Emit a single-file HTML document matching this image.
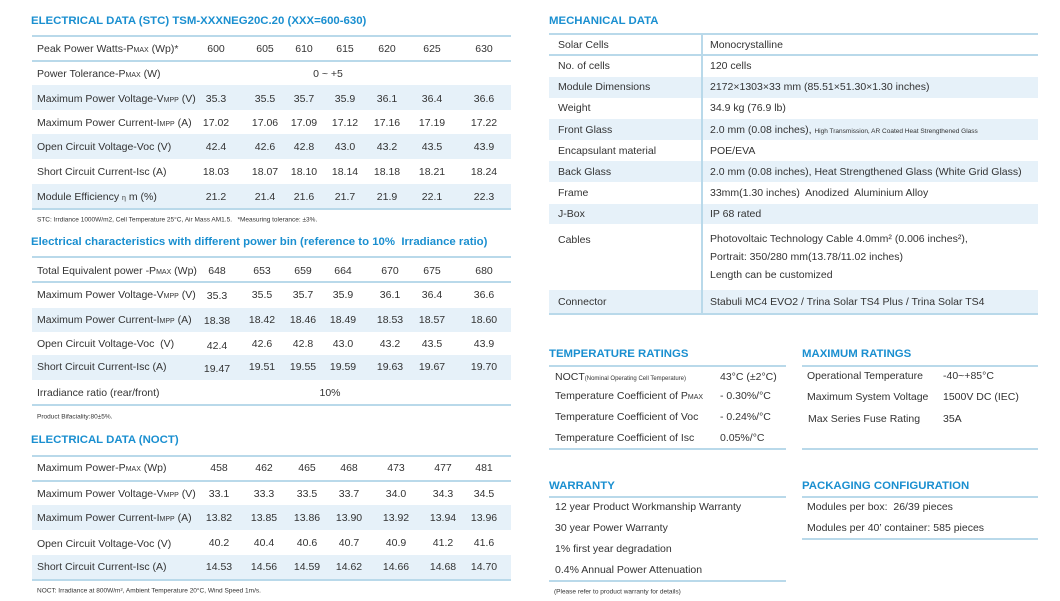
<!DOCTYPE html>
<html><head><meta charset="utf-8"><style>
*{margin:0;padding:0;box-sizing:border-box}
body{width:1060px;height:601px;background:#fff;position:relative;overflow:hidden;font-family:"Liberation Sans",sans-serif;color:#333;font-size:10.5px}
.h{position:absolute;color:#1a8fd0;font-weight:bold;font-size:11.4px;white-space:nowrap}
.ln{position:absolute;height:2px;background:#b9d9ea}
.sh{position:absolute;background:#e6f1f9}
.t{position:absolute;white-space:nowrap;transform:translateY(-50%)}
.c{position:absolute;white-space:nowrap;transform:translate(-50%,-50%)}
.f{position:absolute;white-space:nowrap;font-size:6.5px;transform:translateY(-50%)}
small{font-size:7px}
.vl{position:absolute;width:2px;background:#b9d9ea}
</style></head><body>

<!-- TABLE 1 -->
<div class="h" style="left:31px;top:15px">ELECTRICAL DATA (STC) TSM-XXXNEG20C.20 (XXX=600-630)</div>
<div class="ln" style="left:32px;width:479px;top:35px"></div>
<div class="ln" style="left:32px;width:479px;top:60px"></div>
<div class="sh" style="left:32px;width:479px;top:85px;height:25px"></div>
<div class="sh" style="left:32px;width:479px;top:134px;height:25px"></div>
<div class="sh" style="left:32px;width:479px;top:184px;height:25px"></div>
<div class="ln" style="left:32px;width:479px;top:208px"></div>
<div class="t" style="left:37px;top:49px">Peak Power Watts-P<small>MAX</small> (Wp)*</div>
<div class="c" style="left:216px;top:49px">600</div><div class="c" style="left:265px;top:49px">605</div><div class="c" style="left:304px;top:49px">610</div><div class="c" style="left:345px;top:49px">615</div><div class="c" style="left:387px;top:49px">620</div><div class="c" style="left:432px;top:49px">625</div><div class="c" style="left:484px;top:49px">630</div>
<div class="t" style="left:37px;top:74px">Power Tolerance-P<small>MAX</small> (W)</div>
<div class="c" style="left:328px;top:74px">0 ~ +5</div>
<div class="t" style="left:37px;top:99px">Maximum Power Voltage-V<small>MPP</small> (V)</div>
<div class="c" style="left:216px;top:99px">35.3</div><div class="c" style="left:265px;top:99px">35.5</div><div class="c" style="left:304px;top:99px">35.7</div><div class="c" style="left:345px;top:99px">35.9</div><div class="c" style="left:387px;top:99px">36.1</div><div class="c" style="left:432px;top:99px">36.4</div><div class="c" style="left:484px;top:99px">36.6</div>
<div class="t" style="left:37px;top:123px">Maximum Power Current-I<small>MPP</small> (A)</div>
<div class="c" style="left:216px;top:123px">17.02</div><div class="c" style="left:265px;top:123px">17.06</div><div class="c" style="left:304px;top:123px">17.09</div><div class="c" style="left:345px;top:123px">17.12</div><div class="c" style="left:387px;top:123px">17.16</div><div class="c" style="left:432px;top:123px">17.19</div><div class="c" style="left:484px;top:123px">17.22</div>
<div class="t" style="left:37px;top:147px">Open Circuit Voltage-Voc (V)</div>
<div class="c" style="left:216px;top:147px">42.4</div><div class="c" style="left:265px;top:147px">42.6</div><div class="c" style="left:304px;top:147px">42.8</div><div class="c" style="left:345px;top:147px">43.0</div><div class="c" style="left:387px;top:147px">43.2</div><div class="c" style="left:432px;top:147px">43.5</div><div class="c" style="left:484px;top:147px">43.9</div>
<div class="t" style="left:37px;top:172px">Short Circuit Current-Isc (A)</div>
<div class="c" style="left:216px;top:172px">18.03</div><div class="c" style="left:265px;top:172px">18.07</div><div class="c" style="left:304px;top:172px">18.10</div><div class="c" style="left:345px;top:172px">18.14</div><div class="c" style="left:387px;top:172px">18.18</div><div class="c" style="left:432px;top:172px">18.21</div><div class="c" style="left:484px;top:172px">18.24</div>
<div class="t" style="left:37px;top:197px">Module Efficiency <small>η</small> m (%)</div>
<div class="c" style="left:216px;top:197px">21.2</div><div class="c" style="left:265px;top:197px">21.4</div><div class="c" style="left:304px;top:197px">21.6</div><div class="c" style="left:345px;top:197px">21.7</div><div class="c" style="left:387px;top:197px">21.9</div><div class="c" style="left:432px;top:197px">22.1</div><div class="c" style="left:484px;top:197px">22.3</div>
<div class="f" style="left:37px;top:220px">STC: Irrdiance 1000W/m2, Cell Temperature 25°C, Air Mass AM1.5.&nbsp;&nbsp; *Measuring tolerance: ±3%.</div>

<!-- TABLE 2 -->
<div class="h" style="left:31px;top:236px">Electrical characteristics with different power bin (reference to 10%&nbsp; Irradiance ratio)</div>
<div class="ln" style="left:32px;width:479px;top:256px"></div>
<div class="ln" style="left:32px;width:479px;top:281px"></div>
<div class="sh" style="left:32px;width:479px;top:308px;height:24px"></div>
<div class="sh" style="left:32px;width:479px;top:355px;height:25px"></div>
<div class="ln" style="left:32px;width:479px;top:404px"></div>
<div class="t" style="left:37px;top:271px">Total Equivalent power -P<small>MAX</small> (Wp)</div>
<div class="c" style="left:217px;top:271px">648</div><div class="c" style="left:262px;top:271px">653</div><div class="c" style="left:303px;top:271px">659</div><div class="c" style="left:343px;top:271px">664</div><div class="c" style="left:390px;top:271px">670</div><div class="c" style="left:432px;top:271px">675</div><div class="c" style="left:484px;top:271px">680</div>
<div class="t" style="left:37px;top:295px">Maximum Power Voltage-V<small>MPP</small> (V)</div>
<div class="c" style="left:217px;top:296px">35.3</div><div class="c" style="left:262px;top:295px">35.5</div><div class="c" style="left:303px;top:295px">35.7</div><div class="c" style="left:343px;top:295px">35.9</div><div class="c" style="left:390px;top:295px">36.1</div><div class="c" style="left:432px;top:295px">36.4</div><div class="c" style="left:484px;top:295px">36.6</div>
<div class="t" style="left:37px;top:320px">Maximum Power Current-I<small>MPP</small> (A)</div>
<div class="c" style="left:217px;top:321px">18.38</div><div class="c" style="left:262px;top:320px">18.42</div><div class="c" style="left:303px;top:320px">18.46</div><div class="c" style="left:343px;top:320px">18.49</div><div class="c" style="left:390px;top:320px">18.53</div><div class="c" style="left:432px;top:320px">18.57</div><div class="c" style="left:484px;top:320px">18.60</div>
<div class="t" style="left:37px;top:344px">Open Circuit Voltage-Voc&nbsp; (V)</div>
<div class="c" style="left:217px;top:346px">42.4</div><div class="c" style="left:262px;top:344px">42.6</div><div class="c" style="left:303px;top:344px">42.8</div><div class="c" style="left:343px;top:344px">43.0</div><div class="c" style="left:390px;top:344px">43.2</div><div class="c" style="left:432px;top:344px">43.5</div><div class="c" style="left:484px;top:344px">43.9</div>
<div class="t" style="left:37px;top:367px">Short Circuit Current-Isc (A)</div>
<div class="c" style="left:217px;top:369px">19.47</div><div class="c" style="left:262px;top:367px">19.51</div><div class="c" style="left:303px;top:367px">19.55</div><div class="c" style="left:343px;top:367px">19.59</div><div class="c" style="left:390px;top:367px">19.63</div><div class="c" style="left:432px;top:367px">19.67</div><div class="c" style="left:484px;top:367px">19.70</div>
<div class="t" style="left:37px;top:393px">Irradiance ratio (rear/front)</div>
<div class="c" style="left:330px;top:393px">10%</div>
<div class="f" style="left:37px;top:417px">Product Bifaciality:80±5%.</div>

<!-- TABLE 3 -->
<div class="h" style="left:31px;top:434px">ELECTRICAL DATA (NOCT)</div>
<div class="ln" style="left:32px;width:479px;top:455px"></div>
<div class="ln" style="left:32px;width:479px;top:480px"></div>
<div class="sh" style="left:32px;width:479px;top:505px;height:25px"></div>
<div class="sh" style="left:32px;width:479px;top:555px;height:24px"></div>
<div class="ln" style="left:32px;width:479px;top:579px"></div>
<div class="t" style="left:37px;top:468px">Maximum Power-P<small>MAX</small> (Wp)</div>
<div class="c" style="left:219px;top:468px">458</div><div class="c" style="left:264px;top:468px">462</div><div class="c" style="left:307px;top:468px">465</div><div class="c" style="left:349px;top:468px">468</div><div class="c" style="left:396px;top:468px">473</div><div class="c" style="left:443px;top:468px">477</div><div class="c" style="left:484px;top:468px">481</div>
<div class="t" style="left:37px;top:494px">Maximum Power Voltage-V<small>MPP</small> (V)</div>
<div class="c" style="left:219px;top:494px">33.1</div><div class="c" style="left:264px;top:494px">33.3</div><div class="c" style="left:307px;top:494px">33.5</div><div class="c" style="left:349px;top:494px">33.7</div><div class="c" style="left:396px;top:494px">34.0</div><div class="c" style="left:443px;top:494px">34.3</div><div class="c" style="left:484px;top:494px">34.5</div>
<div class="t" style="left:37px;top:518px">Maximum Power Current-I<small>MPP</small> (A)</div>
<div class="c" style="left:219px;top:518px">13.82</div><div class="c" style="left:264px;top:518px">13.85</div><div class="c" style="left:307px;top:518px">13.86</div><div class="c" style="left:349px;top:518px">13.90</div><div class="c" style="left:396px;top:518px">13.92</div><div class="c" style="left:443px;top:518px">13.94</div><div class="c" style="left:484px;top:518px">13.96</div>
<div class="t" style="left:37px;top:544px">Open Circuit Voltage-Voc (V)</div>
<div class="c" style="left:219px;top:543px">40.2</div><div class="c" style="left:264px;top:543px">40.4</div><div class="c" style="left:307px;top:543px">40.6</div><div class="c" style="left:349px;top:543px">40.7</div><div class="c" style="left:396px;top:543px">40.9</div><div class="c" style="left:443px;top:543px">41.2</div><div class="c" style="left:484px;top:543px">41.6</div>
<div class="t" style="left:37px;top:567px">Short Circuit Current-Isc (A)</div>
<div class="c" style="left:219px;top:567px">14.53</div><div class="c" style="left:264px;top:567px">14.56</div><div class="c" style="left:307px;top:567px">14.59</div><div class="c" style="left:349px;top:567px">14.62</div><div class="c" style="left:396px;top:567px">14.66</div><div class="c" style="left:443px;top:567px">14.68</div><div class="c" style="left:484px;top:567px">14.70</div>
<div class="f" style="left:37px;top:591px">NOCT: Irradiance at 800W/m², Ambient Temperature 20°C, Wind Speed 1m/s.</div>

<!-- MECHANICAL -->
<div class="h" style="left:549px;top:15px">MECHANICAL DATA</div>
<div class="ln" style="left:549px;width:489px;top:33px"></div>
<div class="ln" style="left:549px;width:489px;top:54px"></div>
<div class="sh" style="left:549px;width:489px;top:77px;height:21px"></div>
<div class="sh" style="left:549px;width:489px;top:119px;height:21px"></div>
<div class="sh" style="left:549px;width:489px;top:161px;height:21px"></div>
<div class="sh" style="left:549px;width:489px;top:204px;height:20px"></div>
<div class="sh" style="left:549px;width:489px;top:290px;height:23px"></div>
<div class="ln" style="left:549px;width:489px;top:313px"></div>
<div class="vl" style="left:701px;top:34px;height:281px"></div>
<div class="t" style="left:558px;top:45px">Solar Cells</div><div class="t" style="left:710px;top:45px">Monocrystalline</div>
<div class="t" style="left:558px;top:66px">No. of cells</div><div class="t" style="left:710px;top:66px">120 cells</div>
<div class="t" style="left:558px;top:87px">Module Dimensions</div><div class="t" style="left:710px;top:87px">2172×1303×33 mm (85.51×51.30×1.30 inches)</div>
<div class="t" style="left:558px;top:108px">Weight</div><div class="t" style="left:710px;top:108px">34.9 kg (76.9 lb)</div>
<div class="t" style="left:558px;top:130px">Front Glass</div><div class="t" style="left:710px;top:130px">2.0 mm (0.08 inches), <span style="font-size:6.5px">High Transmission, AR Coated Heat Strengthened Glass</span></div>
<div class="t" style="left:558px;top:151px">Encapsulant material</div><div class="t" style="left:710px;top:151px">POE/EVA</div>
<div class="t" style="left:558px;top:172px">Back Glass</div><div class="t" style="left:710px;top:172px">2.0 mm (0.08 inches), Heat Strengthened Glass (White Grid Glass)</div>
<div class="t" style="left:558px;top:193px">Frame</div><div class="t" style="left:710px;top:193px">33mm(1.30 inches)&nbsp; Anodized&nbsp; Aluminium Alloy</div>
<div class="t" style="left:558px;top:214px">J-Box</div><div class="t" style="left:710px;top:214px">IP 68 rated</div>
<div class="t" style="left:558px;top:240px">Cables</div>
<div class="t" style="left:710px;top:239px">Photovoltaic Technology Cable 4.0mm² (0.006 inches²),</div>
<div class="t" style="left:710px;top:257px">Portrait: 350/280 mm(13.78/11.02 inches)</div>
<div class="t" style="left:710px;top:275px">Length can be customized</div>
<div class="t" style="left:558px;top:302px">Connector</div><div class="t" style="left:710px;top:302px">Stabuli MC4 EVO2 / Trina Solar TS4 Plus / Trina Solar TS4</div>

<!-- TEMPERATURE -->
<div class="h" style="left:549px;top:348px">TEMPERATURE RATINGS</div>
<div class="ln" style="left:549px;width:237px;top:365px"></div>
<div class="t" style="left:555px;top:377px">NOCT<span style="font-size:6px">(Nominal Operating Cell Temperature)</span></div><div class="t" style="left:720px;top:377px">43°C (±2°C)</div>
<div class="t" style="left:555px;top:396px">Temperature Coefficient of P<small>MAX</small></div><div class="t" style="left:720px;top:396px">- 0.30%/°C</div>
<div class="t" style="left:555px;top:417px">Temperature Coefficient of Voc</div><div class="t" style="left:720px;top:417px">- 0.24%/°C</div>
<div class="t" style="left:555px;top:438px">Temperature Coefficient of Isc</div><div class="t" style="left:720px;top:438px">0.05%/°C</div>
<div class="ln" style="left:549px;width:237px;top:448px"></div>

<!-- MAX -->
<div class="h" style="left:802px;top:348px">MAXIMUM RATINGS</div>
<div class="ln" style="left:802px;width:236px;top:365px"></div>
<div class="t" style="left:807px;top:376px">Operational Temperature</div><div class="t" style="left:943px;top:376px">-40~+85°C</div>
<div class="t" style="left:807px;top:397px">Maximum System Voltage</div><div class="t" style="left:943px;top:397px">1500V DC (IEC)</div>
<div class="t" style="left:808px;top:419px">Max Series Fuse Rating</div><div class="t" style="left:943px;top:419px">35A</div>
<div class="ln" style="left:802px;width:236px;top:448px"></div>

<!-- WARRANTY -->
<div class="h" style="left:549px;top:480px">WARRANTY</div>
<div class="ln" style="left:549px;width:237px;top:496px"></div>
<div class="t" style="left:555px;top:507px">12 year Product Workmanship Warranty</div>
<div class="t" style="left:555px;top:528px">30 year Power Warranty</div>
<div class="t" style="left:555px;top:549px">1% first year degradation</div>
<div class="t" style="left:555px;top:570px">0.4% Annual Power Attenuation</div>
<div class="ln" style="left:549px;width:237px;top:580px"></div>
<div class="f" style="left:554px;top:592px">(Please refer to product warranty for details)</div>

<!-- PACKAGING -->
<div class="h" style="left:802px;top:480px">PACKAGING CONFIGURATION</div>
<div class="ln" style="left:802px;width:236px;top:496px"></div>
<div class="t" style="left:807px;top:507px">Modules per box:&nbsp; 26/39 pieces</div>
<div class="t" style="left:807px;top:528px">Modules per 40’ container: 585 pieces</div>
<div class="ln" style="left:802px;width:236px;top:538px"></div>
</body></html>
